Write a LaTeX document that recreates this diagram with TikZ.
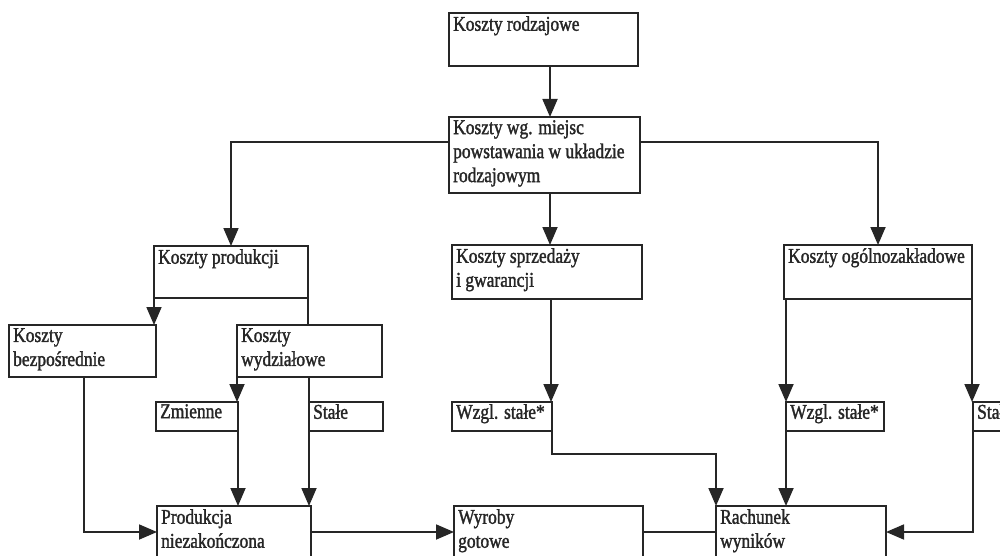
\documentclass[tikz,border=0pt]{standalone}
\usepackage{fontspec}
\setmainfont{Liberation Serif}[FakeStretch=0.83,FakeBold=1.5]
\usepackage{tikz}
\usetikzlibrary{arrows.meta}
\newcommand{\fsz}{\fontsize{21}{24}\selectfont}

\begin{document}
\begin{tikzpicture}[x=1pt,y=-1pt]%
  \tikzstyle{boxn}=[draw=black!85,line width=2.6pt,anchor=north west,inner sep=0,outer sep=0]
  \tikzstyle{lbl}=[anchor=north west,align=left,inner xsep=4,inner ysep=3,font=\fsz,text=black!85]
  \tikzstyle{conn}=[draw=black!85,line width=1.8pt]
  \tikzstyle{arr}=[conn,-{Triangle[length=18pt,width=15pt]}]
  \clip (0,0) rectangle (1000,556);
  % level 0
  \node(rodz)[boxn,minimum width=189,minimum height=53] at (449,13)
    [label={[lbl]north west:Koszty rodzajowe}] {};
  \node(wg)[boxn,minimum width=191,minimum height=76] at (449,117)
    [label={[lbl]north west:Koszty wg. miejsc\\powstawania w układzie\\rodzajowym}] {};
  % level 1
  \node(prod)[boxn,minimum width=154,minimum height=52] at (154,246)
    [label={[lbl]north west:Koszty produkcji}] {};
  \node(sprz)[boxn,minimum width=190,minimum height=54] at (452,245)
    [label={[lbl]north west:Koszty sprzedaży\\i gwarancji}] {};
  \node(ogol)[boxn,minimum width=188,minimum height=54] at (784,245)
    [label={[lbl]north west:Koszty ogólnozakładowe}] {};
  % level 2
  \node(bezp)[boxn,minimum width=147,minimum height=52] at (9,325)
    [label={[lbl]north west:Koszty\\bezpośrednie}] {};
  \node(wydz)[boxn,minimum width=145,minimum height=52] at (237,325)
    [label={[lbl]north west:Koszty\\wydziałowe}] {};
  % level 3
  \node(zm)[boxn,minimum width=82,minimum height=29] at (156,402)
    [label={[lbl,inner ysep=2]north west:Zmienne}] {};
  \node(st1)[boxn,minimum width=74,minimum height=29] at (309,402)
    [label={[lbl,inner ysep=2]north west:Stałe}] {};
  \node(ws1)[boxn,minimum width=100,minimum height=29] at (452,402)
    [label={[lbl,inner ysep=2]north west:Wzgl. stałe*}] {};
  \node(ws2)[boxn,minimum width=98,minimum height=29] at (786,402)
    [label={[lbl,inner ysep=2]north west:Wzgl. stałe*}] {};
  \node(st2)[boxn,minimum width=80,minimum height=29] at (973,402)
    [label={[lbl,inner ysep=2]north west:Stałe}] {};
  % level 4
  \node(prnz)[boxn,minimum width=154,minimum height=70] at (157,506)
    [label={[lbl]north west:Produkcja\\niezakończona}] {};
  \node(wyr)[boxn,minimum width=189,minimum height=70] at (454,506)
    [label={[lbl]north west:Wyroby\\gotowe}] {};
  \node(rach)[boxn,minimum width=170,minimum height=70] at (716,506)
    [label={[lbl]north west:Rachunek\\wyników}] {};
  % connectors
  \draw[arr] (550,66) -- (550,117);
  \draw[arr] (wg.west |- 0,142) -| (prod.north);
  \draw[arr] (wg.east |- 0,142) -| (ogol.north);
  \draw[arr] (550,193) -- (550,245);
  \draw[arr] (prod.south west) -- (prod.south west |- bezp.north);
  \draw[conn] (prod.south east) -- (prod.south east |- wydz.north);
  \draw[arr] (wydz.south west) -- (wydz.south west |- zm.north);
  \draw[conn] (309,377) -- (st1.north west);
  \draw[arr] (zm.south east) -- (zm.south east |- prnz.north);
  \draw[arr] (st1.south west) -- (st1.south west |- prnz.north);
  \draw[arr] (84,377) |- (prnz.west |- 0,532);
  \draw[arr] (prnz.east |- 0,532) -- (wyr.west |- 0,532);
  \draw[conn] (wyr.east |- 0,532) -- (rach.west |- 0,532);
  \draw[arr] (551,299) -- (551,402);
  \draw[arr] (ws1.south east) |- (716,454) -- (rach.north west);
  \draw[arr] (ws2.north west |- ogol.south) -- (ws2.north west);
  \draw[arr] (ws2.south west) -- (ws2.south west |- rach.north);
  \draw[arr] (ogol.south east) -- (ogol.south east |- st2.north);
  \draw[arr] (st2.south west) |- (rach.east |- 0,532);
\end{tikzpicture}
\end{document}
